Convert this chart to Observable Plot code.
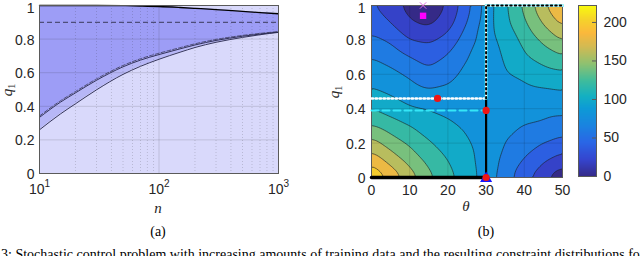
<!DOCTYPE html>
<html><head><meta charset="utf-8">
<script src="https://cdn.jsdelivr.net/npm/d3@7"></script>
<script src="https://cdn.jsdelivr.net/npm/@observablehq/plot@0.6"></script>
<style>
html,body{margin:0;padding:0;background:#fff;width:640px;height:256px;overflow:hidden;position:relative;}
.abs{position:absolute;}
.math{position:absolute;font-family:"Liberation Serif","DejaVu Serif",serif;font-style:italic;font-size:15px;color:#262626;white-space:nowrap;transform:translate(-50%,-50%);line-height:15px;}
.rot{transform:translate(-50%,-50%) rotate(-90deg);}
.sub{font-size:10px;font-style:normal;position:relative;top:3px;}
.plabel{position:absolute;font-family:"Liberation Serif","DejaVu Serif",serif;font-size:14px;color:#000;transform:translate(-50%,-50%);white-space:nowrap;}
.cap{position:absolute;left:-39px;top:248px;font-family:"Liberation Serif","DejaVu Serif",serif;font-size:14px;line-height:14px;color:#000;white-space:nowrap;}
</style></head><body>
<div id="pa" class="abs" style="left:0;top:0"></div>
<div id="pb" class="abs" style="left:330px;top:0"></div>
<div id="cb" class="abs" style="left:560px;top:0"></div>
<div class="math rot" style="left:8px;top:90px"><i>q</i><span class="sub">1</span></div>
<div class="math" style="left:158px;top:208px">n</div>
<div class="plabel" style="left:158px;top:232px">(a)</div>
<div class="math rot" style="left:335px;top:92px"><i>q</i><span class="sub">1</span></div>
<div class="math" style="left:466px;top:206px">θ</div>
<div class="plabel" style="left:486px;top:232px">(b)</div>
<div class="cap">Figure 3: Stochastic control problem with increasing amounts of training data and the resulting constraint distributions for the</div>
<script>
// ---------- Panel (a) data ----------
const nVals      = [10, 15, 20, 30, 50, 70, 100, 150, 200, 300, 500, 700, 1000];
const topBound   = [1, 1, 1, 1, 0.999, 0.997, 0.994, 0.988, 0.983, 0.976, 0.965, 0.958, 0.951];
const upperBound = [0.334, 0.425, 0.48, 0.555, 0.635, 0.675, 0.708, 0.742, 0.765, 0.792, 0.817, 0.83, 0.842];
const upperDash  = [0.342, 0.433, 0.488, 0.563, 0.643, 0.683, 0.716, 0.749, 0.772, 0.798, 0.822, 0.834, 0.845];
const lowerBound = [0.26, 0.355, 0.415, 0.498, 0.59, 0.638, 0.68, 0.722, 0.75, 0.781, 0.81, 0.826, 0.84];
const refLevel = 0.9;
const xTicksA = [10, 100, 1000];
const xTickBase = ["10", "10", "10"];
const xTickExp = ["1", "2", "3"];
const minorA = [20, 30, 40, 50, 60, 70, 80, 90, 200, 300, 400, 500, 600, 700, 800, 900];
const yTicks = [0, 0.2, 0.4, 0.6, 0.8, 1];
const yTickLabels = ["0", "0.2", "0.4", "0.6", "0.8", "1"];

// ---------- Panel (b) data ----------
const thetaGrid = [0, 5, 10, 15, 20, 25, 30, 35, 40, 45, 50];
const qGrid = [0, 0.1, 0.2, 0.3, 0.4, 0.5, 0.6, 0.7, 0.8, 0.9, 1];
const costGrid = [
  [222, 195, 170, 146, 127, 110, 91, 69, 47, 24, 5],
  [194, 173, 153, 134, 120, 107, 90, 75, 58, 43, 30],
  [168, 151, 137, 122, 112, 103, 90, 80, 69, 60, 52],
  [142, 130, 120, 110, 104, 97, 90, 84, 80, 77, 71],
  [120, 111, 102, 99, 95, 92, 90, 88, 87, 86, 86],
  [103, 97, 89, 82, 83, 86, 90, 92, 95, 97, 99],
  [91, 85, 77, 65, 75, 84, 90, 98, 104, 111, 115],
  [80, 73, 60, 52, 62, 80, 90, 102, 118, 129, 138],
  [65, 57, 40, 36, 47, 70, 90, 108, 125, 145, 162],
  [50, 40, 22, 15, 30, 60, 90, 115, 137, 162, 186],
  [42, 30, 12, 4, 22, 53, 88, 117, 145, 175, 212]
];
const levels = [0, 20, 40, 60, 80, 100, 120, 140, 160, 180, 200, 220];
const thetaTicks = [0, 10, 20, 30, 40, 50];
const cbTicks = [0, 50, 100, 150, 200];
const cbMax = 222;
const redPoints = [{t: 17.3, q: 0.46}, {t: 30, q: 0.39}, {t: 30, q: 0}];
const bluePoints = [{t: 30, q: 0}];
const squarePoints = [{t: 13.5, q: 0.94}];
const crossPoints = [{t: 13.5, q: 1}];
const blackBottom = [{t: 0, q: 0}, {t: 30, q: 0}];
const blackVert = [{t: 30, q: 0}, {t: 30, q: 0.46}];
const cyanDashLine = [{t: 0, q: 0.39}, {t: 30, q: 0.39}];
const whiteDotLine = [{t: 0, q: 0.46}, {t: 30, q: 0.46}];
const dottedPath = [{t: 30, q: 0.46}, {t: 30, q: 1}, {t: 50, q: 1}];

// parula-like colormap
const parulaPos = [0, 0.1, 0.2, 0.3, 0.4, 0.47, 0.56, 0.66, 0.76, 0.84, 0.92, 1];
const parulaCol = ["#352a87", "#3545cf", "#2a66e6", "#1a84e0", "#0d9bd6", "#14b0c2", "#3fbc9c", "#8fc170", "#d3ba52", "#fbb83c", "#f5d42a", "#f9fb0e"];
const parula = d3.scaleLinear().domain(parulaPos).range(parulaCol).interpolate(d3.interpolateRgb).clamp(true);
const colorScale = {type: "linear", domain: [0, cbMax], interpolate: t => parula(t)};

const baseStyle = {fontFamily: '"Liberation Sans", Arial, sans-serif', fontSize: "14px", color: "#262626", background: "transparent", overflow: "visible"};
const fmtY = d => yTickLabels[yTicks.indexOf(d)];
const yTicksLow = yTicks.slice(0, -1);
const yTicksTop = yTicks.slice(-1);

// ---------- Panel (a) ----------
const seriesA = nVals.map((n, i) => ({n, top: topBound[i], upper: upperBound[i], dash: upperDash[i], lower: lowerBound[i]}));
const plotA = Plot.plot({
  width: 290, height: 218, marginLeft: 39, marginRight: 12, marginTop: 5, marginBottom: 45,
  x: {type: "log", domain: [10, 1000], axis: null},
  y: {domain: [0, 1], axis: null},
  style: baseStyle,
  marks: [
    Plot.frame({fill: "#d9d9fb"}),
    Plot.areaY(seriesA, {x: "n", y1: "lower", y2: "upper", fill: "#b7b7f7", curve: "monotone-x"}),
    Plot.areaY(seriesA, {x: "n", y1: "upper", y2: "top", fill: "#9d9df6", curve: "monotone-x"}),
    Plot.ruleX(minorA, {stroke: "#262626", strokeOpacity: 0.18, strokeDasharray: "1,2"}),
    Plot.ruleX([100], {stroke: "#262626", strokeOpacity: 0.15}),
    Plot.ruleY(yTicks.slice(1, -1), {stroke: "#262626", strokeOpacity: 0.15}),
    Plot.ruleY([refLevel], {stroke: "#3b3b5c", strokeWidth: 1, strokeDasharray: "5,3"}),
    Plot.lineY(seriesA, {x: "n", y: "lower", stroke: "#22224a", strokeWidth: 0.9, curve: "monotone-x"}),
    Plot.lineY(seriesA, {x: "n", y: "dash", stroke: "#3b3b5c", strokeWidth: 0.8, strokeDasharray: "4,2", curve: "monotone-x"}),
    Plot.lineY(seriesA, {x: "n", y: "upper", stroke: "#22224a", strokeWidth: 0.9, curve: "monotone-x"}),
    Plot.lineY(seriesA, {x: "n", y: "top", stroke: "#000", strokeWidth: 1.3, curve: "monotone-x"}),
    Plot.frame({stroke: "#5a5a5a"}),
    Plot.axisY(yTicksLow, {tickSize: 0, tickPadding: 5, label: null, tickFormat: fmtY, fontSize: 14, dy: 1}),
    Plot.axisY(yTicksTop, {tickSize: 0, tickPadding: 5, label: null, tickFormat: fmtY, fontSize: 14, dy: 3}),
    Plot.text(xTicksA, {x: d => d, frameAnchor: "bottom", text: (d, i) => xTickBase[i], textAnchor: "end", dx: 5, dy: 16, lineAnchor: "middle", fontSize: 14, fill: "#262626"}),
    Plot.text(xTicksA, {x: d => d, frameAnchor: "bottom", text: (d, i) => xTickExp[i], textAnchor: "start", dx: 5, dy: 10, lineAnchor: "middle", fontSize: 10, fill: "#262626"})
  ]
});
document.getElementById("pa").appendChild(plotA);

// ---------- Panel (b) ----------
const samples = [];
qGrid.forEach((q, i) => thetaGrid.forEach((t, j) => samples.push({t, q, v: costGrid[i][j]})));
const plotB = Plot.plot({
  width: 242, height: 222, marginLeft: 41, marginRight: 10, marginTop: 5, marginBottom: 45,
  x: {domain: [0, 50], axis: null},
  y: {domain: [0, 1], axis: null},
  color: colorScale,
  style: baseStyle,
  marks: [
    Plot.contour(samples, {x: "t", y: "q", value: "v", fill: "value", stroke: "#1b1b1b", strokeWidth: 0.6, thresholds: levels, interpolate: "barycentric", blur: 2}),
    Plot.gridX(thetaTicks.slice(1, -1), {stroke: "#000", strokeOpacity: 0.12}),
    Plot.gridY(yTicks.slice(1, -1), {stroke: "#000", strokeOpacity: 0.12}),
    Plot.frame({stroke: "#5a5a5a"}),
    Plot.line(blackBottom, {x: "t", y: "q", stroke: "#000", strokeWidth: 3.5}),
    Plot.line(blackVert, {x: "t", y: "q", stroke: "#000", strokeWidth: 2.2}),
    Plot.line(cyanDashLine, {x: "t", y: "q", stroke: "#35e6f7", strokeWidth: 2, strokeDasharray: "7,4"}),
    Plot.line(whiteDotLine, {x: "t", y: "q", stroke: "#fff", strokeWidth: 2.5, strokeDasharray: "1.5,2.5"}),
    Plot.line(dottedPath, {x: "t", y: "q", stroke: "#35e6f7", strokeWidth: 3}),
    Plot.line(dottedPath, {x: "t", y: "q", stroke: "#fff", strokeWidth: 2}),
    Plot.line(dottedPath, {x: "t", y: "q", stroke: "#000", strokeWidth: 2, strokeDasharray: "1.5,3"}),
    Plot.dot(crossPoints, {x: "t", y: "q", symbol: "times", stroke: "#e070e0", r: 3, strokeWidth: 1}),
    Plot.dot(squarePoints, {x: "t", y: "q", symbol: "square", fill: "#ff00ff", r: 3.6}),
    Plot.dot(bluePoints, {x: "t", y: "q", symbol: "triangle", fill: "#1414ff", r: 4.5, dy: 1}),
    Plot.dot(redPoints, {x: "t", y: "q", fill: "#f01414", r: 3.6}),
    Plot.axisX(thetaTicks, {tickSize: 0, tickPadding: 8, label: null, fontSize: 14}),
    Plot.axisY(yTicksLow, {tickSize: 0, tickPadding: 6, label: null, tickFormat: fmtY, fontSize: 14, dy: 1}),
    Plot.axisY(yTicksTop, {tickSize: 0, tickPadding: 6, label: null, tickFormat: fmtY, fontSize: 14, dy: 3})
  ]
});
document.getElementById("pb").appendChild(plotB);

// ---------- Colorbar ----------
const plotC = Plot.plot({
  width: 80, height: 188, marginLeft: 18, marginRight: 44, marginTop: 5, marginBottom: 12,
  x: {domain: [0, 1], axis: null},
  y: {domain: [0, cbMax], axis: null},
  color: colorScale,
  style: baseStyle,
  marks: [
    Plot.raster({x1: 0, x2: 1, y1: 0, y2: cbMax, fill: (x, y) => y, pixelSize: 1}),
    Plot.frame({stroke: "#5a5a5a"}),
    Plot.tickY(cbTicks, {y: d => d, stroke: "#5a5a5a", insetLeft: 14}),
    Plot.axisY(cbTicks, {anchor: "right", tickSize: 0, tickPadding: 7, label: null, fontSize: 14})
  ]
});
document.getElementById("cb").appendChild(plotC);
</script>
</body></html>
